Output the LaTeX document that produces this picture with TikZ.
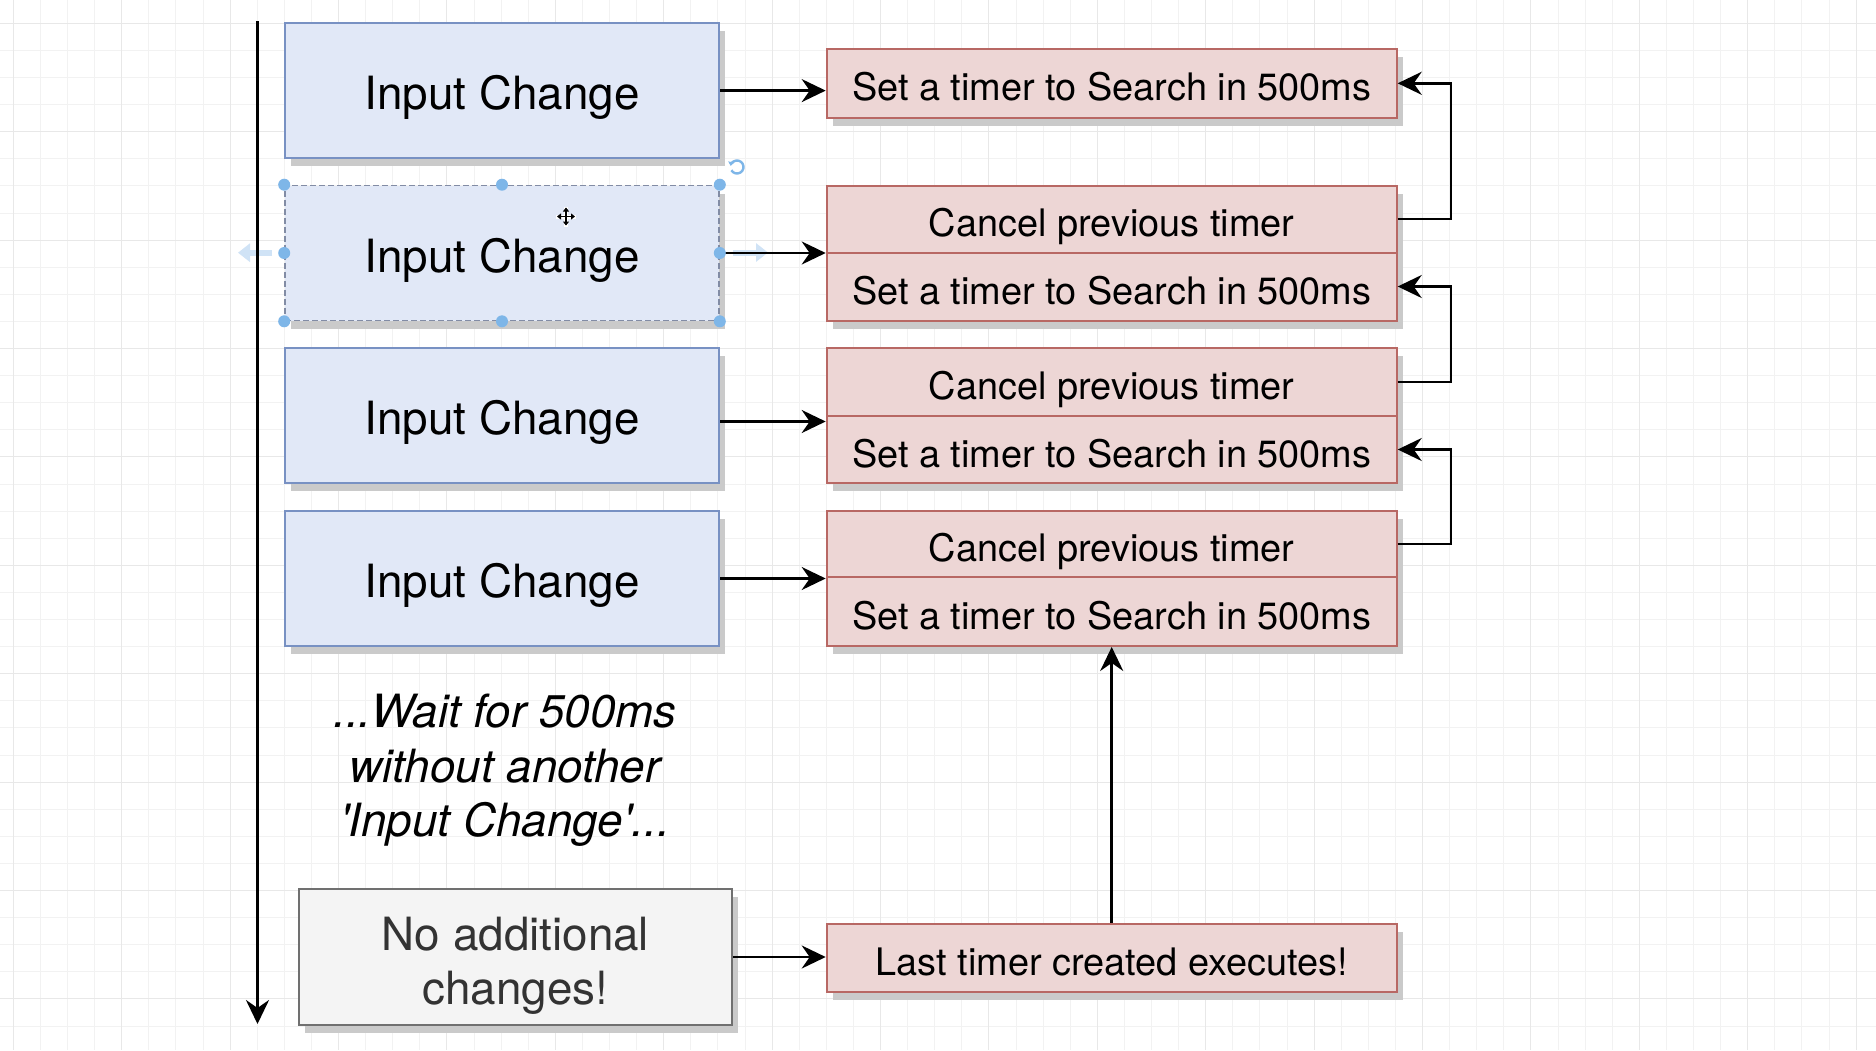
\documentclass[tikz,border=0pt]{standalone}
\usepackage{fontspec}
\setmainfont{TeX Gyre Heros}
\usetikzlibrary{arrows.meta,shadows}

\definecolor{gridminor}{RGB}{242,242,242}
\definecolor{gridmajor}{RGB}{232,232,232}
\definecolor{inFill}{RGB}{225,232,247}
\definecolor{inLine}{RGB}{120,145,195}
\definecolor{selLine}{RGB}{130,140,165}
\definecolor{tmFill}{RGB}{237,214,213}
\definecolor{tmLine}{RGB}{184,104,100}
\definecolor{nfFill}{RGB}{244,244,244}
\definecolor{nfLine}{RGB}{112,112,112}
\definecolor{nfText}{RGB}{51,51,51}
\definecolor{selBlue}{RGB}{126,182,232}
\definecolor{hintBlue}{RGB}{208,227,246}
\definecolor{shade}{RGB}{202,202,202}

\tikzset{
  base/.style={rectangle, inner sep=0pt, line width=2pt,
    drop shadow={shadow xshift=6pt, shadow yshift=-8pt, fill=shade, opacity=1}},
  inbox/.style={base, draw=inLine, fill=inFill, minimum width=434pt,
    minimum height=135pt, font=\fontsize{45.8}{55}\selectfont,
    text height=44pt, text depth=5.8pt},
  tmbox/.style={base, draw=tmLine, fill=tmFill, minimum width=570pt,
    font=\fontsize{37.9}{45}\selectfont, text height=38pt, text depth=3pt},
  nfbox/.style={base, draw=nfLine, fill=nfFill, minimum width=433pt,
    minimum height=136pt},
  nftext/.style={text=nfText, align=center, inner sep=0pt,
    font=\fontsize{45.8}{54.5}\selectfont},
  note/.style={align=center, inner sep=0pt, font=\fontsize{45.8}{54.5}\selectfont\itshape},
  conn/.style={line width=2.6pt, -{Stealth[length=24pt,width=23pt,inset=8pt]}},
  handle/.style={fill=selBlue, draw=none},
  hint/.style={line width=6pt, hintBlue, -{Triangle[length=12pt,width=18pt]}}
}

\begin{document}
\begin{tikzpicture}[x=1pt, y=-1pt]
  \useasboundingbox (0,0) rectangle (1876,1050);
  \fill[white] (0,0) rectangle (1876,1050);

  % background grid
  \foreach \k in {0,...,68} {
    \pgfmathsetmacro\gx{13.3+27.1*\k}
    \draw[gridminor, line width=1pt] (\gx,0) -- (\gx,1050);
  }
  \foreach \k in {0,...,37} {
    \pgfmathsetmacro\gy{23.3+27.1*\k}
    \draw[gridminor, line width=1pt] (0,\gy) -- (1876,\gy);
  }
  \foreach \k in {0,4,...,68} {
    \pgfmathsetmacro\gx{13.3+27.1*\k}
    \draw[gridmajor, line width=1pt] (\gx,0) -- (\gx,1050);
  }
  \foreach \k in {0,4,...,36} {
    \pgfmathsetmacro\gy{23.3+27.1*\k}
    \draw[gridmajor, line width=1pt] (0,\gy) -- (1876,\gy);
  }

  % faint move hints beside the selected box
  \coordinate (hl0) at (272,252.7);
  \coordinate (hl1) at (238,252.7);
  \coordinate (hr0) at (733,252.5);
  \coordinate (hr1) at (768,252.5);
  \draw[hint] (hl0) -- (hl1);
  \draw[hint] (hr0) -- (hr1);

  % time line
  \coordinate (t0) at (257.5,21);
  \coordinate (t1) at (257.5,1024);
  \draw[conn, line width=3pt] (t0) -- (t1);

  % input events
  \node[inbox] (in1) at (502,90.6) {Input Change};
  \node[inbox, draw=selLine, dashed, dash pattern=on 6pt off 3pt, line width=1.6pt] (in2) at (502,253) {Input Change};
  \node[inbox] (in3) at (502,415.5) {Input Change};
  \node[inbox] (in4) at (502,578.5) {Input Change};

  % timer actions
  \node[tmbox, minimum height=68.5pt] (r1) at (1111.7,83.3) {Set a timer to Search in 500ms};
  \node[tmbox, minimum height=67pt] (r2c) at (1111.7,219) {Cancel previous timer};
  \node[tmbox, minimum height=68pt] (r2s) at (1111.7,286.5) {Set a timer to Search in 500ms};
  \node[tmbox, minimum height=67.7pt] (r3c) at (1111.7,381.9) {Cancel previous timer};
  \node[tmbox, minimum height=67.6pt] (r3s) at (1111.7,449.5) {Set a timer to Search in 500ms};
  \node[tmbox, minimum height=67pt] (r4c) at (1111.7,544) {Cancel previous timer};
  \node[tmbox, minimum height=68.5pt] (r4s) at (1111.7,611.7) {Set a timer to Search in 500ms};
  \node[tmbox, minimum height=68pt] (r5) at (1111.7,957.7) {Last timer created executes!};

  % waiting note and final state
  \node[note] (wait) at (505,770.5) {...Wait for 500ms\\without another\\\textquotesingle Input Change\textquotesingle...};
  \node[nfbox, label={[nftext, yshift=-9pt]center:No additional\\changes!}] (nf) at (515.5,957) {};

  % connectors
  \draw[conn] (in1.east) -- (in1.east -| r1.west);
  \draw[conn] (in2.east) -- (in2.east -| r2c.west);
  \draw[conn] ([yshift=-6pt]in3.east) -- ([yshift=-6pt]in3.east -| r3s.west);
  \draw[conn] (in4.east) -- (in4.east -| r4s.west);
  \draw[conn] (nf.east) -- (nf.east -| r5.west);
  \draw[conn] (r5.north) -- (r4s.south);
  \draw[conn] (r2c.east) -- ++(53.3,0) |- (r1.east);
  \draw[conn] (r3c.east) -- ++(53.3,0) |- (r2s.east);
  \draw[conn] (r4c.east) -- ++(53.3,0) |- (r3s.east);

  % selection handles on the selected box
  \foreach \a in {north west,north,north east,west,east,south west,south,south east}
    \fill[handle] (in2.\a) circle[radius=6pt];

  % rotate handle
  \coordinate (rot) at (737,167);
  \draw[selBlue, line width=2.4pt, -{Triangle[length=4pt,width=6pt]}]
    ([shift={(150:6.5)}]rot) arc[start angle=150, end angle=-170, radius=6.5];

  % move cursor
  \coordinate (cur) at (566,216.5);
  \draw[white, line width=4pt] ([xshift=-10pt]cur) -- ([xshift=10pt]cur)
    ([yshift=-10pt]cur) -- ([yshift=10pt]cur);
  \draw[black, line width=1.6pt, {Triangle[length=4pt,width=6pt]}-{Triangle[length=4pt,width=6pt]}]
    ([xshift=-9pt]cur) -- ([xshift=9pt]cur);
  \draw[black, line width=1.6pt, {Triangle[length=4pt,width=6pt]}-{Triangle[length=4pt,width=6pt]}]
    ([yshift=-9pt]cur) -- ([yshift=9pt]cur);
\end{tikzpicture}
\end{document}
